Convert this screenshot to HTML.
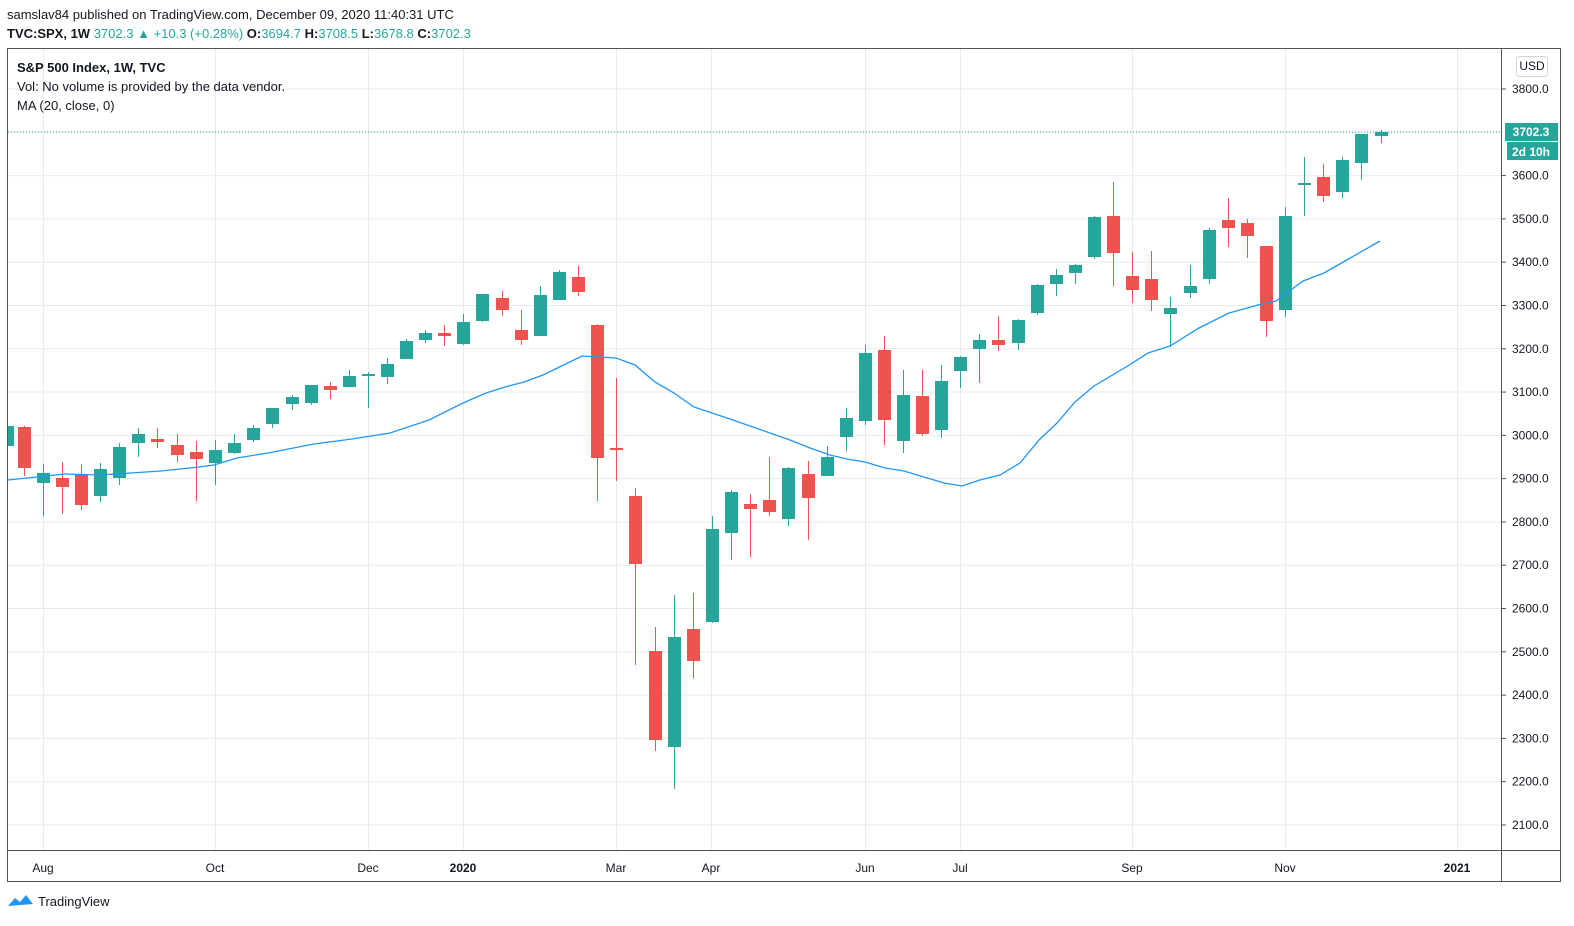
<!DOCTYPE html>
<html><head><meta charset="utf-8"><style>
html,body{margin:0;padding:0;background:#fff;width:1574px;height:926px;overflow:hidden;font-family:"Liberation Sans",sans-serif;}
svg{position:absolute;left:0;top:0}
</style></head><body>
<svg width="1574" height="926" viewBox="0 0 1574 926" xmlns="http://www.w3.org/2000/svg" font-family="Liberation Sans, sans-serif">
<text x="7" y="19" font-size="13" fill="#131722">samslav84 published on TradingView.com, December 09, 2020 11:40:31 UTC</text>
<text x="7" y="38" font-size="13" fill="#131722"><tspan font-weight="bold">TVC:SPX, 1W</tspan><tspan fill="#26a69a">  3702.3 ▲ +10.3 (+0.28%)</tspan><tspan font-weight="bold"> O:</tspan><tspan fill="#26a69a">3694.7</tspan><tspan font-weight="bold"> H:</tspan><tspan fill="#26a69a">3708.5</tspan><tspan font-weight="bold"> L:</tspan><tspan fill="#26a69a">3678.8</tspan><tspan font-weight="bold"> C:</tspan><tspan fill="#26a69a">3702.3</tspan></text>
<g id="grid" stroke="#e6ebf0" stroke-width="1"></g>
<g id="candles" shape-rendering="crispEdges"></g>
<polyline id="ma" fill="none" stroke="#2196f3" stroke-width="1.3"></polyline>
<line x1="8" y1="132" x2="1501" y2="132" stroke="#26a69a" stroke-width="1" stroke-dasharray="1,2"/>
<rect x="7.5" y="48.5" width="1553" height="833" fill="none" stroke="#50535e" stroke-width="1"/>
<line x1="1501.5" y1="48" x2="1501.5" y2="881" stroke="#50535e"/>
<line x1="7" y1="850.5" x2="1561" y2="850.5" stroke="#50535e"/>
<g id="ylab" font-size="12" fill="#131722"></g>
<g id="xlab" font-size="12" fill="#131722" text-anchor="middle"></g>
<rect x="1516.5" y="56.5" width="31" height="20" rx="3" fill="#fff" stroke="#d1d4dc"/>
<text x="1532" y="70" font-size="12" fill="#131722" text-anchor="middle">USD</text>
<rect x="1505" y="123" width="53" height="18" fill="#26a69a"/>
<text x="1531" y="136" font-size="12" font-weight="bold" fill="#fff" text-anchor="middle">3702.3</text>
<rect x="1507" y="142" width="51" height="18" fill="#26a69a"/>
<text x="1531" y="156" font-size="12" font-weight="bold" fill="#fff" text-anchor="middle">2d 10h</text>
<text x="17" y="72" font-size="13" fill="#131722" font-weight="bold">S&amp;P 500 Index, 1W, TVC</text>
<text x="17" y="91" font-size="13" fill="#131722">Vol: No volume is provided by the data vendor.</text>
<text x="17" y="110" font-size="13" fill="#131722">MA (20, close, 0)</text>
<path d="M8 906 l7 -8 l5 4 l6 -7 l7 9 z" fill="#2196f3"/>
<text x="38" y="906" font-size="13" fill="#131722">TradingView</text>
</svg>
<script>
var NS="http://www.w3.org/2000/svg";
function el(p,t,a,txt){var e=document.createElementNS(NS,t);for(var k in a)e.setAttribute(k,a[k]);if(txt)e.textContent=txt;p.appendChild(e);return e;}
var grid=document.getElementById('grid');
var vx=[43,215,368,463,616,711,865,960,1132,1285,1457];
vx.forEach(function(x){el(grid,'line',{x1:x+.5,y1:48,x2:x+.5,y2:850});});
var ylab=document.getElementById('ylab');
for(var p=2100;p<=3800;p+=100){var y=89+(3800-p)*0.43294;el(grid,'line',{x1:8,y1:y,x2:1501,y2:y});
 if(p!=3700){el(ylab,'line',{x1:1501,y1:y,x2:1506,y2:y,stroke:'#50535e'});el(ylab,'text',{x:1512,y:y+4},p+'.0');}}
var xl=document.getElementById('xlab');
[[43,'Aug'],[215,'Oct'],[368,'Dec'],[463,'2020'],[616,'Mar'],[711,'Apr'],[865,'Jun'],[960,'Jul'],[1132,'Sep'],[1285,'Nov'],[1457,'2021']].forEach(function(a){var t=el(xl,'text',{x:a[0],y:872},a[1]);if(a[1]=='2020'||a[1]=='2021')t.setAttribute('font-weight','bold');});
var C=[[7,'g',426,446,426,446],[24,'r',427,468,426,476],[43,'g',473,483,464,516],[62,'r',478,487,462,514],[81,'r',475,505,464,510],[100,'g',469,496,463,502],[119,'g',447,478,443,485],[138,'g',434,443,428,457],[157,'r',439,442,428,448],[177,'r',445,455,434,462],[196,'r',452,459,441,501],[215,'g',450,463,440,485],[234,'g',443,453,434,454],[253,'g',428,440,425,442],[272,'g',408,424,408,428],[292,'g',397,404,395,410],[311,'g',385,403,385,405],[330,'r',386,390,382,399],[349,'g',376,387,370,387],[368,'g',374,376,372,408],[387,'g',364,377,358,384],[406,'g',341,359,339,359],[425,'g',333,340,330,343],[444,'r',333,336,325,346],[463,'g',322,344,314,345],[482,'g',294,321,294,322],[502,'r',298,310,291,316],[521,'r',330,340,310,345],[540,'g',295,336,286,336],[559,'g',272,300,270,300],[578,'r',277,292,266,296],
[597,'r',325,458,324,501],[616,'r',448,449,378,481],[635,'r',496,564,488,665],[655,'r',651,740,627,751],[674,'g',637,747,595,789],[693,'r',629,661,593,678],[712,'g',529,622,516,623],[731,'g',492,533,490,560],[750,'r',504,509,494,557],[769,'r',500,512,457,516],[788,'g',468,519,467,526],[808,'r',474,498,461,540],[827,'g',457,476,446,476],[846,'g',418,437,408,451],[865,'g',353,421,345,425],[884,'r',350,420,336,445],[903,'g',395,441,370,453],[922,'r',396,434,370,436],[941,'g',381,430,365,438],[960,'g',357,371,356,388],[979,'g',340,349,334,383],[998,'r',340,345,316,351],[1018,'g',320,343,319,350],
[1037,'g',285,313,284,315],[1056,'g',275,284,269,296],[1075,'g',265,273,264,284],[1094,'g',217,257,216,259],[1113,'r',216,253,182,286],[1132,'r',276,290,252,303],[1151,'r',279,300,251,311],[1170,'g',308,314,297,347],[1190,'g',286,293,265,298],[1209,'g',230,279,228,284],[1228,'r',220,228,198,247],[1247,'r',223,236,219,258],[1266,'r',246,321,246,337],[1285,'g',216,310,207,317],[1304,'g',183,185,157,216],[1323,'r',177,196,164,202],[1342,'g',160,192,157,198],[1361,'g',134,163,134,180],[1381,'g',132,136,130,143]];
var cg=document.getElementById('candles');
C.forEach(function(c){var col=c[1]=='g'?'#26a69a':'#ef5350';var x=c[0];
 var l=Math.max(8,x-6),r=x+7;
 if(x>8)el(cg,'rect',{x:x,y:c[4],width:1,height:Math.max(1,c[5]-c[4]),fill:col});
 el(cg,'rect',{x:l,y:c[2],width:r-l,height:Math.max(2,c[3]-c[2]),fill:col});});
var ma=[[8,480],[65,474],[100,475],[161,471],[199,467],[214,465],[237,458],[268,453],[314,444],[352,439],[390,433],[429,420],[463,403],[486,393],[505,387],[524,382],[543,375],[582,356],[616,358],[635,365],[655,382],[674,393],[694,407],[712,413],[730,419],[750,426],[770,433],[790,440],[810,448],[830,455],[847,459],[865,462],[885,468],[904,471],[924,477],[944,483],[962,486],[980,480],[1000,475],[1020,463],[1039,440],[1057,423],[1075,402],[1094,386],[1126,367],[1148,353],[1170,346],[1199,328],[1229,313],[1258,305],[1276,301],[1303,281],[1324,273],[1345,261],[1380,241]];
document.getElementById('ma').setAttribute('points',ma.map(function(p){return p.join(',')}).join(' '));
</script>
</body></html>
